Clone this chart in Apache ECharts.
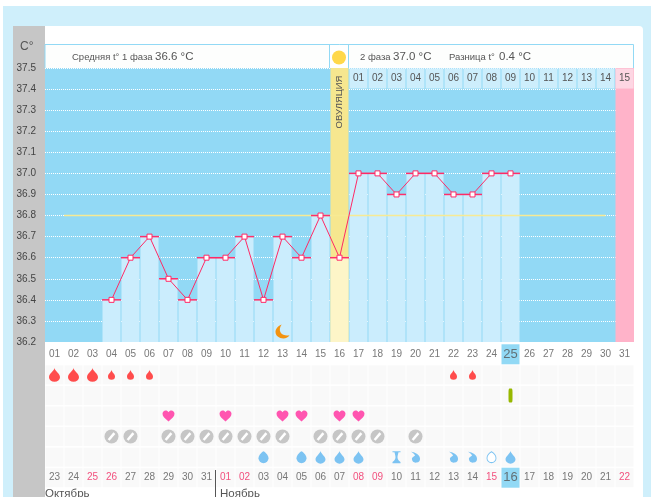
<!DOCTYPE html>
<html><head><meta charset="utf-8">
<style>html,body{margin:0;padding:0;background:#fff}#c{width:651px;height:497px}</style>
<script src="https://cdn.jsdelivr.net/npm/echarts@6/dist/echarts.min.js"></script>
</head><body><div id="c"></div>
<script>
const dayLabels=['01','02','03','04','05','06','07','08','09','10','11','12','13','14','15','16','17','18','19','20','21','22','23','24','25','26','27','28','29','30','31'];
const dateLabels=['23','24','25','26','27','28','29','30','31','01','02','03','04','05','06','07','08','09','10','11','12','13','14','15','16','17','18','19','20','21','22'];
const redDateIdx=[2,3,9,10,16,17,23,30];
const lutealLabels=['01','02','03','04','05','06','07','08','09','10','11','12','13','14','15'];
const temps=[null,null,null,36.4,36.6,36.7,36.5,36.4,36.6,36.6,36.7,36.4,36.7,36.6,36.8,36.6,37.0,37.0,36.9,37.0,37.0,36.9,36.9,37.0,37.0,null,null,null,null,null,null];
const coverLine=[[1,36.8],[29.5,36.8]];
const ovulationDay=16, pinkDay=31, todayDay=25, moonDay=13;
const bleedHeavy=[1,2,3], bleedLight=[4,5,6,22,23];
const greenDays=[25];
const hearts=[7,10,13,14,16,17];
const pills=[4,5,7,8,9,10,11,12,13,15,16,17,18,20];
const mucusRound=[12,14], mucusDrop=[15,16,17,25], mucusHour=[19], mucusComma=[20,22,23], mucusHollow=[24];
const rows=['days','bleed','other','hearts','pills','mucus','dates'];
const yMin=36.2,yMax=37.5;

const FONT='"Liberation Sans",Arial,sans-serif';
const TXT='#555';
const P={
 drop:'path://M10,0 C10,6 1,11 1,18 A9,9 0 0 0 19,18 C19,11 10,6 10,0 Z',
 round:'path://M10,0 C5,3 0,9 0,15 A10,10 0 0 0 20,15 C20,9 15,3 10,0 Z',
 comma:'path://M0,0 C10,1 20,8 20,15 A9,9 0 0 1 2,17 C2,12 8,11 9,9 C8,5 4,2 0,0 Z',
 hour:'path://M0,0 H16 V2 H12 C11,6 10,8 10,10 C10,12 11,15 16,18 V20 H0 V18 C5,15 6,12 6,10 C6,8 5,6 4,2 H0 Z',
 heart:'path://M10,18 C4,13 0,10 0,5.5 C0,2 2.5,0 5.2,0 C7.2,0 9,1 10,3 C11,1 12.8,0 14.8,0 C17.5,0 20,2 20,5.5 C20,10 16,13 10,18 Z',
 moon:'path://M7,0 C2,2 0,6 0,9 C0,14 4,17 9,17 C12,17 15,15 16,13 C12,14 8,13 6,10 C4,7 5,3 7,0 Z'
};
const lbl=d=>dayLabels[d-1];
function icons(name,days,row,symbol,size,color,extra){
 return Object.assign({type:'scatter',name,xAxisIndex:1,yAxisIndex:1,symbol,symbolSize:size,silent:true,z:5,
  itemStyle:{color,opacity:1},data:days.map(d=>[lbl(d),row])},extra||{});
}
const allCells=[];
rows.slice(1).forEach(r=>dayLabels.forEach(d=>allCells.push([d,r])));
const series=[
 {type:'bar',name:'ovulationBand',barWidth:18,barGap:'-100%',z:2,silent:true,itemStyle:{color:'#f6e78f'},
  data:dayLabels.map((d,i)=>i+1===ovulationDay?yMax:null)},
 {type:'bar',name:'pinkBand',barWidth:19,barGap:'-100%',z:2,silent:true,itemStyle:{color:'#ffb3c9'},
  data:dayLabels.map((d,i)=>i+1===pinkDay?yMax:null)},
 {type:'bar',name:'tempBars',barWidth:18,barGap:'-100%',z:3,silent:true,
  data:temps.map((v,i)=>v==null?null:{value:v,itemStyle:{color:i+1===ovulationDay?'#fdf5c8':'#cbedfd'}})},
 {type:'scatter',name:'ticks',symbol:'rect',symbolSize:[19,1.5],z:4,silent:true,itemStyle:{color:'#ff2f6a',opacity:1},
  data:temps.map((v,i)=>v==null?null:[dayLabels[i],v]).filter(Boolean)},
 {type:'line',name:'avg',xAxisIndex:2,yAxisIndex:0,data:coverLine,symbol:'none',z:4,silent:true,lineStyle:{color:'#f7ea94',width:1.5}},
 {type:'line',name:'temp',data:temps.map((v,i)=>v==null?null:[dayLabels[i],v]).filter(Boolean),symbol:'rect',symbolSize:5,showSymbol:true,z:6,silent:true,
  lineStyle:{color:'#ff2a66',width:1},itemStyle:{color:'#fff',borderColor:'#ff2a66',borderWidth:1}},
 {type:'scatter',name:'moon',symbol:P.moon,symbolSize:[14,14],z:6,silent:true,itemStyle:{color:'#f3930f',opacity:1},
  data:[[lbl(moonDay),36.25]]},
 {type:'scatter',name:'lutealCells',symbol:'rect',symbolSize:[18,20],z:5,silent:true,
  data:lutealLabels.map((t,i)=>{const d=ovulationDay+1+i;return {value:[lbl(d),37.45],itemStyle:{color:d===pinkDay?'#fdd6e3':'#cdeefc',opacity:1},
   label:{show:true,position:'inside',formatter:t,color:TXT,fontSize:10,fontFamily:FONT}}})},
 {type:'scatter',name:'grid',xAxisIndex:1,yAxisIndex:1,symbol:'rect',symbolSize:[18,19],z:2,silent:true,itemStyle:{color:'#f9f9f9',opacity:1},data:allCells},
 {type:'scatter',name:'today',xAxisIndex:1,yAxisIndex:1,symbol:'rect',symbolSize:[18,20],z:3,silent:true,itemStyle:{color:'#92d9f5',opacity:1},
  data:[[lbl(todayDay),'days'],[lbl(todayDay),'dates']]},
 {type:'scatter',name:'dayText',xAxisIndex:1,yAxisIndex:1,symbolSize:1,z:6,silent:true,itemStyle:{color:'rgba(0,0,0,0)'},
  data:dayLabels.map((t,i)=>({value:[t,'days'],label:{show:true,position:'inside',formatter:t,color:TXT,fontFamily:FONT,fontSize:i+1===todayDay?13:10}}))},
 {type:'scatter',name:'dateText',xAxisIndex:1,yAxisIndex:1,symbolSize:1,z:6,silent:true,itemStyle:{color:'rgba(0,0,0,0)'},
  data:dateLabels.map((t,i)=>({value:[dayLabels[i],'dates'],label:{show:true,position:'inside',formatter:t,color:redDateIdx.includes(i)?'#f0245e':TXT,fontFamily:FONT,fontSize:i+1===todayDay?13:10}}))},
 icons('bleedHeavy',bleedHeavy,'bleed',P.drop,[11,14],'#ff4c4c'),
 icons('bleedLight',bleedLight,'bleed',P.drop,[7,10],'#ff4c4c'),
 icons('green',greenDays,'other',"roundRect",[4,14],'#97b800'),
 icons('hearts',hearts,'hearts',P.heart,[12,11],'#ff55b0'),
 icons('pills',pills,'pills','circle',14,'#c6c6c6'),
 icons('pillSlash',pills,'pills','rect',[2.5,9],'#fff',{symbolRotate:-40,z:6}),
 icons('mucusRound',mucusRound,'mucus',P.round,[10,12],'#7cc3f2'),
 icons('mucusDrop',mucusDrop,'mucus',P.drop,[10,13],'#7cc3f2'),
 icons('mucusHour',mucusHour,'mucus',P.hour,[8,12],'#7cc3f2'),
 icons('mucusComma',mucusComma,'mucus',P.comma,[9,11],'#7cc3f2'),
 icons('mucusHollow',mucusHollow,'mucus',P.round,[9,11],'#fff',{itemStyle:{color:'#fff',borderColor:'#7cc3f2',borderWidth:1,opacity:1}})
];
const T=(x,y,text,size)=>({type:'text',x,y,z:30,silent:true,style:{text,fill:TXT,font:size+'px '+FONT,verticalAlign:'middle'}});
const option={
 animation:false,backgroundColor:'#fff',
 graphic:[
  {type:'rect',z:-5,silent:true,shape:{x:3,y:6,width:648,height:491},style:{fill:'#cfeffb'}},
  {type:'rect',z:-4,silent:true,shape:{x:13,y:26,width:630,height:471,r:[0,4,0,0]},style:{fill:'#fff'}},
  {type:'rect',z:-3,silent:true,shape:{x:13,y:26,width:32,height:471},style:{fill:'#c6c6c6'}},
  {type:'rect',z:-3,silent:true,shape:{x:45,y:44.5,width:588.5,height:24},style:{fill:'#fdfefd',stroke:'#92d9f5',lineWidth:1}},
  {type:'rect',z:-2,silent:true,shape:{x:330,y:45,width:18,height:23},style:{fill:'#fff'}},
  {type:'line',z:-2,silent:true,shape:{x1:348.5,y1:45,x2:348.5,y2:68},style:{stroke:'#92d9f5'}},
  {type:'line',z:-2,silent:true,shape:{x1:329.5,y1:45,x2:329.5,y2:68},style:{stroke:'#92d9f5'}},
  {type:'circle',z:20,silent:true,shape:{cx:339,cy:57.5,r:7},style:{fill:'#ffd84a'}},
  {type:'line',z:20,silent:true,shape:{x1:215.5,y1:470,x2:215.5,y2:497},style:{stroke:'#555'}},
  T(20,47,'C°',12),
  T(72,57,'Средняя t° 1 фаза',9.5), T(155,57,'36.6 °C',11.5),
  T(360,57,'2 фаза',9.5), T(393,57,'37.0 °C',11.5),
  T(449,57,'Разница t°',9.5), T(499,57,'0.4 °C',11.5),
  {type:'text',x:339,y:102,rotation:Math.PI/2,z:30,silent:true,style:{text:'ОВУЛЯЦИЯ',fill:TXT,font:'9.5px '+FONT,align:'center',verticalAlign:'middle'}},
  T(45,494,'Октябрь',11.5), T(220,494,'Ноябрь',11.5)
 ],
 grid:[
  {left:45,top:68,width:589,height:274,show:true,backgroundColor:'#92d9f5',borderWidth:0},
  {left:45,top:344,width:589,height:144,show:false}
 ],
 xAxis:[
  {type:'category',gridIndex:0,data:dayLabels,show:false,boundaryGap:true},
  {type:'category',gridIndex:1,data:dayLabels,show:false,boundaryGap:true},
  {type:'value',gridIndex:0,min:0,max:31,show:false}
 ],
 yAxis:[
  {type:'value',gridIndex:0,min:yMin,max:yMax,interval:0.1,
   axisLine:{show:false},axisTick:{show:false},
   axisLabel:{color:'#444',fontSize:10,fontFamily:FONT,margin:9,padding:[3,0,0,0],formatter:v=>v.toFixed(1)},
   splitLine:{show:true,lineStyle:{color:'#fff',type:'dotted',width:1}}},
  {type:'category',gridIndex:1,data:rows,inverse:true,show:false}
 ],
 series
};
echarts.init(document.getElementById('c'),null,{renderer:'canvas'}).setOption(option);
</script></body></html>
